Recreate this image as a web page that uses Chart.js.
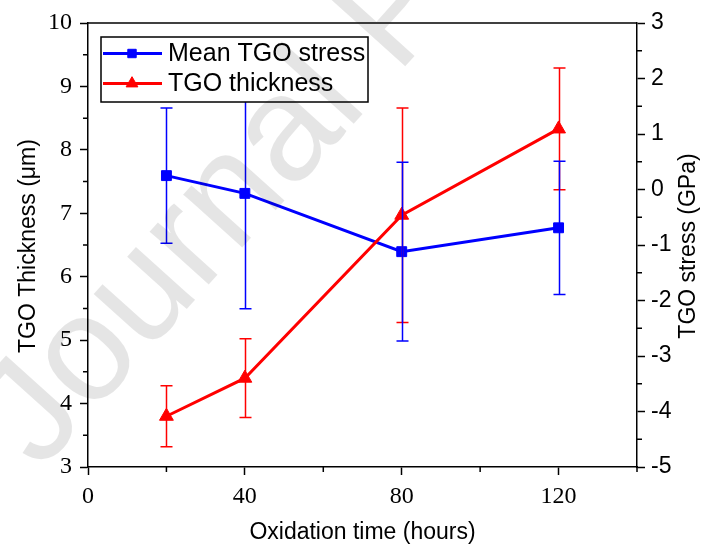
<!DOCTYPE html>
<html><head><meta charset="utf-8">
<script src="https://cdn.jsdelivr.net/npm/chart.js@4"></script>
<style>html,body{margin:0;padding:0;background:#fff}#wrap{width:704px;height:547px}</style>
</head><body><div id="wrap"><canvas id="c" width="704" height="547"></canvas></div>
<script>
// ---- data ----
const oxidationTime = [20, 40, 80, 120];
const stressMean = [0.25, -0.07, -1.12, -0.69];
const stressErr = [1.22, 2.08, 1.61, 1.20];
const thicknessMean = [3.80, 4.40, 6.97, 8.33];
const thicknessErr = [0.48, 0.62, 1.69, 0.96];
const xTickValues = [0, 40, 80, 120];
const xMinorTicks = [20, 60, 100, 140];
const leftTickValues = [3, 4, 5, 6, 7, 8, 9, 10];
const leftMinorTicks = [3.5, 4.5, 5.5, 6.5, 7.5, 8.5, 9.5];
const rightTickValues = [-5, -4, -3, -2, -1, 0, 1, 2, 3];
const rightMinorTicks = [-4.5, -3.5, -2.5, -1.5, -0.5, 0.5, 1.5, 2.5];
const seriesLabels = ['Mean TGO stress', 'TGO thickness'];
const xTitle = 'Oxidation time (hours)';
const leftTitle = 'TGO Thickness (μm)';
const rightTitle = 'TGO stress (GPa)';
const watermarkText = 'Journal Pre-proof';

const BLUE = '#0000ff', RED = '#ff0000';
const SANS = '"Liberation Sans", Arial, sans-serif';
const SERIF = '"Liberation Serif", "Times New Roman", serif';

const toPts = (ys) => oxidationTime.map((x, i) => ({x: x, y: ys[i]}));

const errorBarPlugin = {
  id: 'errorBars',
  afterDatasetsDraw(chart) {
    const ctx = chart.ctx;
    const xs = chart.scales.x;
    const order = [1, 0];
    order.forEach(di => {
      const ds = chart.data.datasets[di];
      const ys = chart.scales[ds.yAxisID];
      ctx.save();
      ctx.strokeStyle = ds.borderColor;
      ctx.lineWidth = 1.5;
      ds.data.forEach((p, i) => {
        const e = ds.errorBars[i];
        const px = Math.round(xs.getPixelForValue(p.x)) + 0.5;
        const yt = ys.getPixelForValue(p.y + e);
        const yb = ys.getPixelForValue(p.y - e);
        ctx.beginPath();
        ctx.moveTo(px, yt); ctx.lineTo(px, yb);
        ctx.moveTo(px - 6, yt); ctx.lineTo(px + 6, yt);
        ctx.moveTo(px - 6, yb); ctx.lineTo(px + 6, yb);
        ctx.stroke();
      });
      ctx.restore();
    });
  }
};

const decorPlugin = {
  id: 'decor',
  afterDraw(chart) {
    const ctx = chart.ctx;
    const a = chart.chartArea;
    const xs = chart.scales.x, yl = chart.scales.yL, yr = chart.scales.yR;
    ctx.save();
    ctx.strokeStyle = '#000';
    ctx.lineWidth = 1.5;
    // top frame line
    ctx.beginPath();
    ctx.moveTo(a.left, a.top); ctx.lineTo(a.right, a.top);
    ctx.stroke();
    // minor ticks
    ctx.beginPath();
    xMinorTicks.forEach(v => { const p = xs.getPixelForValue(v); ctx.moveTo(p, a.bottom); ctx.lineTo(p, a.bottom + 5); });
    leftMinorTicks.forEach(v => { const p = yl.getPixelForValue(v); ctx.moveTo(a.left, p); ctx.lineTo(a.left - 5, p); });
    rightMinorTicks.forEach(v => { const p = yr.getPixelForValue(v); ctx.moveTo(a.right, p); ctx.lineTo(a.right + 5, p); });
    ctx.stroke();

    // legend
    const lx = a.left + 13, ly = a.top + 14, lw = 267, lh = 65;
    ctx.fillStyle = '#fff';
    ctx.fillRect(lx, ly, lw, lh);
    ctx.strokeRect(lx, ly, lw, lh);
    const rows = [0, 1];
    rows.forEach((di, r) => {
      const ds = chart.data.datasets[di];
      const cy = ly + 16.5 + r * 30;
      ctx.strokeStyle = ds.borderColor;
      ctx.lineWidth = 3;
      ctx.beginPath(); ctx.moveTo(lx + 2, cy); ctx.lineTo(lx + 61, cy); ctx.stroke();
      ctx.fillStyle = ds.borderColor;
      ctx.lineWidth = 1;
      Chart.helpers.drawPoint(ctx, {pointStyle: ds.pointStyle, radius: ds.pointRadius * 0.85, rotation: 0, borderWidth: 1}, lx + 31, cy);
      ctx.fillStyle = '#000';
      ctx.font = '25px ' + SANS;
      ctx.textBaseline = 'middle';
      ctx.textAlign = 'left';
      ctx.fillText(ds.label, lx + 67, cy + 1);
    });

    // axis titles
    ctx.fillStyle = '#000';
    ctx.font = '23px ' + SANS;
    ctx.textAlign = 'center';
    ctx.textBaseline = 'middle';
    ctx.fillText(xTitle, (a.left + a.right) / 2, 533);
    ctx.save();
    ctx.translate(29, (a.top + a.bottom) / 2 + 1);
    ctx.rotate(-Math.PI / 2);
    ctx.fillText(leftTitle, 0, 0);
    ctx.restore();
    ctx.save();
    ctx.translate(689, (a.top + a.bottom) / 2 + 1);
    ctx.rotate(-Math.PI / 2);
    ctx.fillText(rightTitle, 0, 0);
    ctx.restore();

    // watermark
    ctx.save();
    ctx.translate(40, 472);
    ctx.rotate(-48 * Math.PI / 180);
    ctx.font = '150px ' + SANS;
    ctx.fillStyle = 'rgba(0,0,0,0.1)';
    ctx.textAlign = 'left';
    ctx.textBaseline = 'alphabetic';
    ctx.fillText(watermarkText, 0, 0);
    ctx.restore();
    ctx.restore();
  }
};

const tickGrid = {drawOnChartArea: false, drawTicks: true, tickLength: 8, tickColor: '#000', tickWidth: 1.5};
const border = {display: true, color: '#000', width: 1.5};

new Chart(document.getElementById('c'), {
  type: 'line',
  data: {
    datasets: [
      {label: seriesLabels[0], data: toPts(stressMean), errorBars: stressErr, yAxisID: 'yR',
       borderColor: BLUE, backgroundColor: BLUE, borderWidth: 3, pointStyle: 'rect', pointRadius: 7,
       pointBorderWidth: 1, tension: 0, order: 1},
      {label: seriesLabels[1], data: toPts(thicknessMean), errorBars: thicknessErr, yAxisID: 'yL',
       borderColor: RED, backgroundColor: RED, borderWidth: 3, pointStyle: 'triangle', pointRadius: 8,
       pointBorderWidth: 1, tension: 0, order: 0}
    ]
  },
  options: {
    responsive: false, animation: false, devicePixelRatio: 1,
    layout: {padding: {top: 23, left: 0, right: 0, bottom: 0}},
    plugins: {legend: {display: false}, tooltip: {enabled: false}},
    scales: {
      x: {type: 'linear', position: 'bottom', min: 0, max: 140,
          afterBuildTicks: s => { s.ticks = xTickValues.map(v => ({value: v})); },
          afterFit: s => { s.height = 80; },
          ticks: {font: {family: SERIF, size: 24}, color: '#000', padding: 7, maxRotation: 0, autoSkip: false},
          grid: tickGrid, border: border},
      yL: {type: 'linear', position: 'left', min: 3, max: 10,
          afterBuildTicks: s => { s.ticks = leftTickValues.map(v => ({value: v})); },
          afterFit: s => { s.width = 88; },
          ticks: {font: {family: SERIF, size: 24}, color: '#000', padding: 8, autoSkip: false},
          grid: tickGrid, border: border},
      yR: {type: 'linear', position: 'right', min: -5, max: 3,
          afterBuildTicks: s => { s.ticks = rightTickValues.map(v => ({value: v})); },
          afterFit: s => { s.width = 67; },
          ticks: {font: {family: SANS, size: 23}, color: '#000', padding: 6, autoSkip: false},
          grid: tickGrid, border: border}
    }
  },
  plugins: [errorBarPlugin, decorPlugin]
});
</script>
</body></html>
